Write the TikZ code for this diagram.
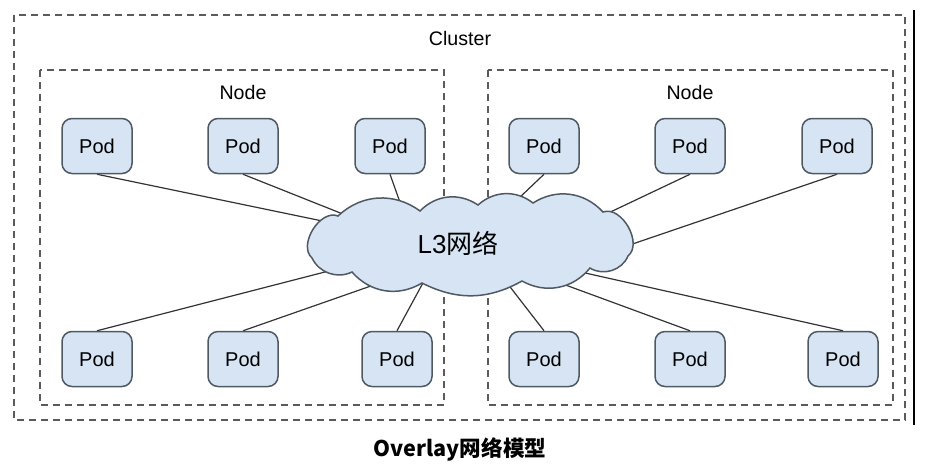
\documentclass[tikz,border=0pt]{standalone}
\usepackage{fontspec}
\setmainfont{Liberation Sans}
\newfontfamily\cjk{Noto Sans CJK SC}
\usetikzlibrary{positioning,calc,backgrounds}
\tikzset{>=stealth}
\definecolor{podblue}{HTML}{D6E4F3}
\definecolor{podedge}{HTML}{4F5964}
\definecolor{boxgray}{HTML}{5A5A5A}
\tikzset{
  pod/.style={draw=podedge,fill=podblue,line width=0.75pt,rounded corners=5pt,
    minimum width=35pt,minimum height=27.5pt,font=\fontsize{10}{12}\selectfont},
  dashbox/.style={draw=boxgray,line width=0.75pt,dash pattern=on 3.5pt off 2.5pt},
  link/.style={draw=black!80,line width=0.6pt}
}

\begin{document}
\begin{tikzpicture}[x=0.5pt,y=-0.5pt]
% Size of the picture, in pixels of the reference
\useasboundingbox (0,0) rectangle (925,472);

\draw[line width=0.7pt] (914,10) -- (914,425);

\node[font=\fontsize{9.8}{11}\selectfont] (cluster) at (460,38) {Cluster};
\node[font=\fontsize{9.8}{11}\selectfont] (nodeL) at (243,92) {Node};
\node[font=\fontsize{9.8}{11}\selectfont] (nodeR) at (690,92) {Node};

% Pods of the top row
\node[pod] (p1) at (97,146) {Pod};
\node[pod] (p2) at (243,146) {Pod};
\node[pod] (p3) at (390,146) {Pod};
\node[pod] (p4) at (544,146) {Pod};
\node[pod] (p5) at (690,146) {Pod};
\node[pod] (p6) at (837,146) {Pod};

% Pods of the bottom row
\node[pod] (p7) at (97,359) {Pod};
\node[pod] (p8) at (243,359) {Pod};
\node[pod] (p9) at (397,359) {Pod};
\node[pod] (p10) at (544,359) {Pod};
\node[pod] (p11) at (690,359) {Pod};
\node[pod] (p12) at (843,359) {Pod};

% Label of the L3 network
\node[font=\fontsize{13}{15}\selectfont] (L3) at (458,243) {L3{\cjk 网络}};

% Points inside the cloud where the links end
\coordinate (c1) at ($(L3)+(-97,-14)$);
\coordinate (c2) at ($(L3)+(-90,-19)$);
\coordinate (c3) at ($(L3)+(-46,-7)$);
\coordinate (c4) at ($(L3)+(39,-24)$);
\coordinate (c5) at ($(L3)+(125,-18)$);
\coordinate (c6) at ($(L3)+(151,9)$);
\coordinate (c7) at ($(L3)+(-106,22)$);
\coordinate (c8) at ($(L3)+(-50,30)$);
\coordinate (c9) at ($(L3)+(-21,14)$);
\coordinate (c10) at ($(L3)+(32,18)$);
\coordinate (c11) at ($(L3)+(64,26)$);
\coordinate (c12) at ($(L3)+(96,23)$);

\begin{scope}[on background layer]
% Dashed boxes for the cluster and its two nodes
\draw[dashbox] (14,15) rectangle (905,420);
\draw[dashbox] (40,70) rectangle (444,405);
\draw[dashbox] (488,70) rectangle (893,405);

% Links from the pods
\draw[link] (p1.south) -- (c1);
\draw[link] (p2.south) -- (c2);
\draw[link] (p3.south) -- (c3);
\draw[link] (p4.south) -- (c4);
\draw[link] (p5.south) -- (c5);
\draw[link] (p6.south) -- (c6);
\draw[link] (p7.north) -- (c7);
\draw[link] (p8.north) -- (c8);
\draw[link] (p9.north) -- (c9);
\draw[link] (p10.north) -- (c10);
\draw[link] (p11.north) -- (c11);
\draw[link] (p12.north) -- (c12);

% Cloud drawn puff by puff, over the links and boxes
\draw[podedge,fill=podblue,line width=0.75pt]
  (338,216) to[bend left=40] (420,211)
  to[bend left=40] (478,205)
  to[bend left=40] (533,203)
  to[bend left=40] (603,212)
  to[bend left=80] (628,256)
  to[bend left=50] (590,268)
  to[bend left=40] (522,281)
  to[bend left=28] (422,283)
  to[bend left=40] (352,272)
  to[bend left=45] (312,258)
  to[bend left=80] (338,216) -- cycle;
\end{scope}

% Caption
\node[font=\cjk\bfseries\fontsize{10.8}{13}\selectfont] (caption) at (460,449) {Overlay网络模型};
\end{tikzpicture}
\end{document}
